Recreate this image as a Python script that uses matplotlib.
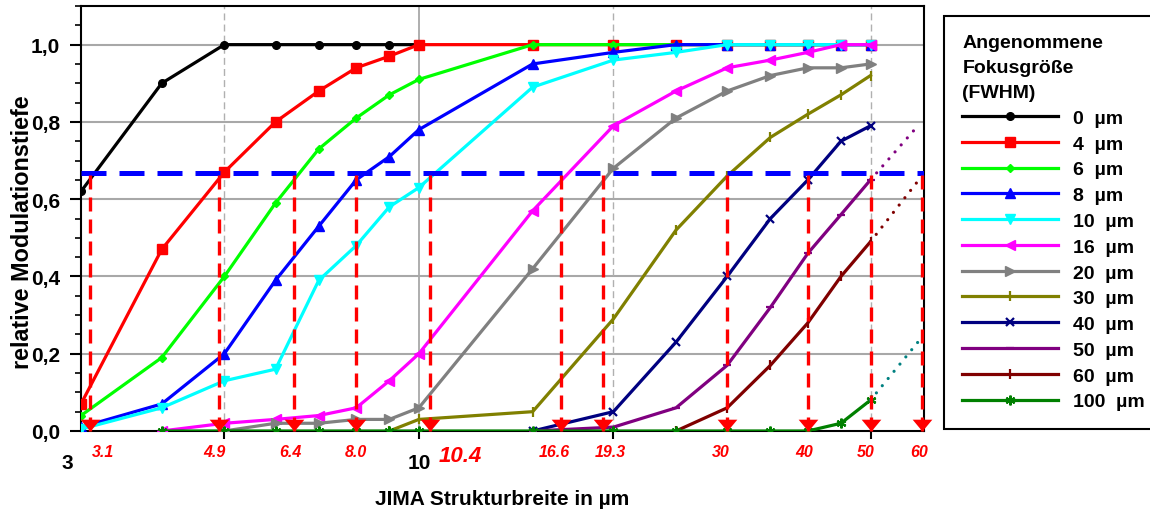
import matplotlib
matplotlib.use("Agg")
import matplotlib.pyplot as plt
import matplotlib.transforms as mtransforms
import numpy as np

plt.rcParams['font.family'] = ['Liberation Sans', 'DejaVu Sans']
plt.rcParams['font.weight'] = 'bold'
plt.rcParams['axes.labelweight'] = 'bold'

N = np.nan

# structure width in um
x = [3, 4, 5, 6, 7, 8, 9, 10, 15, 20, 25, 30, 35, 40, 45, 50]

# relative modulation depth per assumed focus size
m0   = [0.62, 0.90, 1.00, 1.00, 1.00, 1.00, 1.00, 1.00, N, N, N, N, N, N, N, N]
m4   = [0.07, 0.47, 0.67, 0.80, 0.88, 0.94, 0.97, 1.00, 1.00, 1.00, 1.00, 1.00, 1.00, 1.00, 1.00, 1.00]
m6   = [0.04, 0.19, 0.40, 0.59, 0.73, 0.81, 0.87, 0.91, 1.00, 1.00, 1.00, 1.00, 1.00, 1.00, 1.00, 1.00]
m8   = [0.01, 0.07, 0.20, 0.39, 0.53, 0.65, 0.71, 0.78, 0.95, 0.98, 1.00, 1.00, 1.00, 1.00, 1.00, 1.00]
m10  = [0.005, 0.06, 0.13, 0.16, 0.39, 0.48, 0.58, 0.63, 0.89, 0.96, 0.98, 1.00, 1.00, 1.00, 1.00, 1.00]
m16  = [N, 0.00, 0.02, 0.03, 0.04, 0.06, 0.13, 0.20, 0.57, 0.79, 0.88, 0.94, 0.96, 0.98, 1.00, 1.00]
m20  = [N, N, 0.00, 0.02, 0.02, 0.03, 0.03, 0.06, 0.42, 0.68, 0.81, 0.88, 0.92, 0.94, 0.94, 0.95]
m30  = [N, N, N, N, N, N, 0.00, 0.03, 0.05, 0.29, 0.52, 0.66, 0.76, 0.82, 0.87, 0.92]
m40  = [N, N, N, N, N, N, N, N, 0.00, 0.05, 0.23, 0.40, 0.55, 0.65, 0.75, 0.79]
m50  = [N, N, N, N, N, N, N, N, 0.00, 0.01, 0.06, 0.17, 0.32, 0.46, 0.56, 0.65]
m60  = [N, N, N, N, N, N, N, N, N, N, 0.00, 0.06, 0.17, 0.28, 0.40, 0.49]
m100 = [N, 0.00, 0.00, 0.00, 0.00, 0.00, 0.00, 0.00, 0.00, 0.00, 0.00, 0.00, 0.00, 0.00, 0.02, 0.08]

labels = ["0  µm", "4  µm", "6  µm", "8  µm", "10  µm", "16  µm", "20  µm",
          "30  µm", "40  µm", "50  µm", "60  µm", "100  µm"]

# dotted extrapolations beyond 50 um
ext50_x, ext50_y = [50, 58.5], [0.65, 0.78]
ext60_x, ext60_y = [50, 59.4], [0.49, 0.65]
ext100_x, ext100_y = [50, 59.2], [0.08, 0.23]

# threshold and read-off structure widths
thresh = 0.667
cut_x = [3.1, 4.9, 6.4, 8.0, 10.4, 16.6, 19.3, 30, 40, 50, 60]
cut_lbl = ["3.1", "4.9", "6.4", "8.0", "10.4", "16.6", "19.3", "30", "40", "50", "60"]

series = [m0, m4, m6, m8, m10, m16, m20, m30, m40, m50, m60, m100]
colors = ["#000000", "#ff0000", "#00ff00", "#0000ff", "#00ffff", "#ff00ff",
          "#808080", "#808000", "#000080", "#800080", "#800000", "#008000"]
markers = ["o", "s", "D", "^", "v", "<", ">", "|", "x", "_", "|", (6, 2, 0)]
msizes = [5.5, 7.5, 4.5, 6.5, 6.5, 6.5, 6.5, 7, 6, 6, 7, 7]

fig = plt.figure(figsize=(11.5, 5.1), dpi=100)
ax = fig.add_axes([81/1150, 78/510, 843/1150, 425/510])
ax.set_xscale("log")
ax.set_xlim(3, 60.5)
ax.set_ylim(0, 1.1)

# grid
for yy in [0.2, 0.4, 0.6, 0.8, 1.0]:
    ax.axhline(yy, color="#a8a8a8", lw=1.5, zorder=0)
ax.axvline(10, color="#a8a8a8", lw=1.3, zorder=0)
for xx in [5, 20, 50]:
    ax.axvline(xx, color="#b0b0b0", lw=1.0, ls=(0, (5, 3)), zorder=0)

handles = []
for ys, c, mk, ms, lb in zip(series, colors, markers, msizes, labels):
    ys = np.array(ys, dtype=float)
    mew = 1.6 if mk in ["|", "x", "_", (6, 2, 0)] else 1.0
    h, = ax.plot(x, ys, color=c, lw=2.3, marker=mk, markersize=ms,
                 markeredgewidth=mew, markeredgecolor=c, label=lb, zorder=3)
    handles.append(h)

for ex, ey, c in [(ext50_x, ext50_y, "#800080"), (ext60_x, ext60_y, "#800000"),
                  (ext100_x, ext100_y, "#008080")]:
    ax.plot(ex, ey, color=c, lw=2.3, dashes=(0.01, 2.9), dash_capstyle="round", zorder=3)

# threshold line and read-off arrows
ax.axhline(thresh, color="#0000ff", lw=3.6, dashes=(5.0, 2.6), zorder=4)
arrow = [(-1, 1.2), (1, 1.2), (0, 0)]
for cx in cut_x:
    ax.plot([cx, cx], [0, thresh], color="#ff0000", lw=2.4, dashes=(4.2, 2.4),
            zorder=5, clip_on=False)
    ax.plot([cx], [0], marker=arrow, markersize=17, color="#ff0000",
            markeredgewidth=0, zorder=6, clip_on=False)

lbl_dx = [13, -4, -3, 0, 30, -7, 7, -6, -4, -5, -3]
trans = mtransforms.blended_transform_factory(ax.transData, ax.transAxes)
for cx, lb, dx in zip(cut_x, cut_lbl, lbl_dx):
    big = lb == "10.4"
    ax.annotate(lb, (cx, 0), xycoords=trans, xytext=(dx * 0.72, -18 if big else -14.5),
                textcoords="offset points", ha="center", va="center",
                color="#ff0000", style="italic", fontweight="bold",
                fontsize=16 if big else 11.5)

# axis tick labels
ax.annotate("3", (3, 0), xycoords=trans, xytext=(-9.5, -23), textcoords="offset points",
            ha="center", va="center", fontsize=15)
ax.annotate("10", (10, 0), xycoords=trans, xytext=(0, -23), textcoords="offset points",
            ha="center", va="center", fontsize=15)

ax.set_xticks([5, 10, 20, 50])
ax.set_xticklabels([])
ax.xaxis.set_minor_locator(matplotlib.ticker.NullLocator())
ax.tick_params(axis="x", which="major", length=6, width=1.5, direction="out")

ax.set_yticks(np.arange(0, 1.01, 0.2))
ax.set_yticklabels([f"{v:.1f}".replace(".", ",") for v in np.arange(0, 1.01, 0.2)], fontsize=15)
ax.set_yticks(np.arange(0, 1.101, 0.05), minor=True)
ax.tick_params(axis="y", which="major", length=8, width=1.5, pad=7)
ax.tick_params(axis="y", which="minor", length=4, width=1.2)

for sp in ax.spines.values():
    sp.set_linewidth(1.5)
    sp.set_color("black")

ax.set_xlabel("JIMA Strukturbreite in µm", fontsize=15, fontweight="bold", labelpad=32)
ax.set_ylabel("relative Modulationstiefe", fontsize=16.8, fontweight="bold")
ax.yaxis.set_label_coords(-0.056, 0.47)

leg = fig.legend(handles=handles, loc="upper left",
                 bbox_to_anchor=(944/1150, 1 - 17/510), bbox_transform=fig.transFigure,
                 title="Angenommene\nFokusgröße\n(FWHM)", alignment="left",
                 fontsize=14, title_fontproperties={"weight": "bold", "size": 14},
                 frameon=True, fancybox=False, framealpha=1, edgecolor="black",
                 handlelength=4.9, handletextpad=0.8, labelspacing=0.42,
                 borderpad=0.95, borderaxespad=0)
leg.get_frame().set_linewidth(1.5)
leg.get_title().set_linespacing(1.6)

fig.savefig("out.png", dpi=100)
